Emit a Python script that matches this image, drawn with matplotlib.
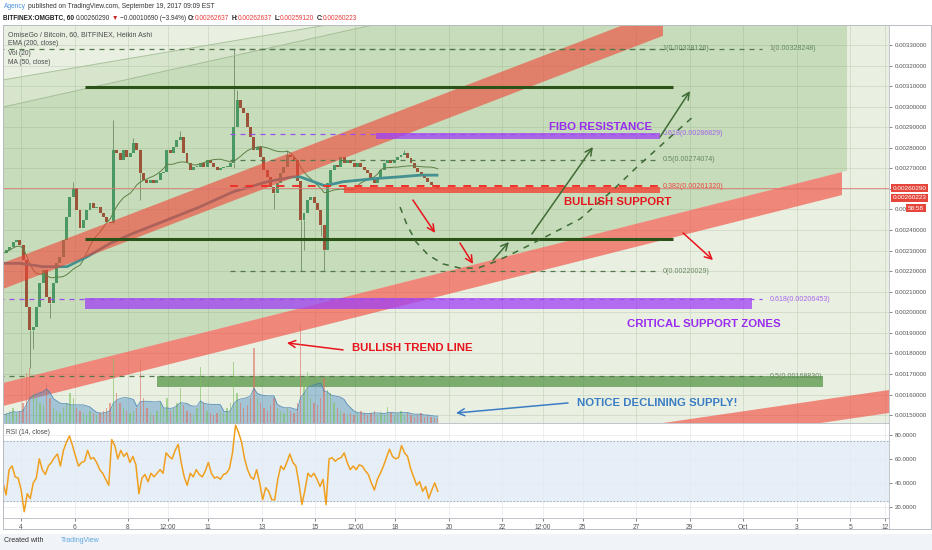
import numpy as np
import pandas as pd
import matplotlib.pyplot as plt
from matplotlib.patches import Polygon, Rectangle
from matplotlib.lines import Line2D
from matplotlib.transforms import blended_transform_factory

plt.rcParams['font.family'] = ['Liberation Sans', 'DejaVu Sans']

# x is the day of September 2017 (Oct 1 = 31)
first_day = 3.33
step_day = 0.125

close = [0.002286, 0.002303, 0.002319, 0.002343, 0.002351, 0.002327, 0.002254, 0.002027, 0.001914, 0.001930,
         0.002027, 0.002141, 0.002205, 0.002076, 0.002043, 0.002141, 0.002238, 0.002270, 0.002351, 0.002465,
         0.002562, 0.002603, 0.002497, 0.002408, 0.002449, 0.002497, 0.002530, 0.002505, 0.002513, 0.002481,
         0.002465, 0.002440, 0.002432, 0.002789, 0.002773, 0.002740, 0.002789, 0.002757, 0.002773, 0.002821,
         0.002789, 0.002676, 0.002643, 0.002627, 0.002643, 0.002627, 0.002643, 0.002676, 0.002684, 0.002789,
         0.002773, 0.002805, 0.002838, 0.002854, 0.002773, 0.002724, 0.002692, 0.002708, 0.002708, 0.002724,
         0.002708, 0.002740, 0.002724, 0.002708, 0.002692, 0.002700, 0.002708, 0.002708, 0.002724, 0.002903,
         0.003032, 0.002992, 0.002967, 0.002903, 0.002854, 0.002789, 0.002805, 0.002757, 0.002692, 0.002659,
         0.002611, 0.002578, 0.002627, 0.002676, 0.002708, 0.002765, 0.002757, 0.002740, 0.002640, 0.002449,
         0.002483, 0.002546, 0.002560, 0.002531, 0.002497, 0.002425, 0.002303, 0.002629, 0.002692, 0.002716,
         0.002708, 0.002757, 0.002724, 0.002740, 0.002724, 0.002708, 0.002724, 0.002708, 0.002692, 0.002676,
         0.002643, 0.002627, 0.002659, 0.002692, 0.002724, 0.002740, 0.002724, 0.002740, 0.002757, 0.002765,
         0.002773, 0.002748, 0.002724, 0.002700, 0.002684, 0.002667, 0.002651, 0.002635, 0.002619, 0.002611,
         0.002602]

# only the wicks that stand out on the chart
wick_high = {21: 0.002635, 33: 0.002935, 39: 0.00285, 53: 0.00288, 69: 0.003281, 70: 0.00308,
             85: 0.00279, 120: 0.00279}
wick_low = {8: 0.00173, 9: 0.00182, 14: 0.00197, 33: 0.00243, 41: 0.002546, 69: 0.0027,
            81: 0.0025, 89: 0.0022, 90: 0.002303, 95: 0.00237, 96: 0.0022}

volume = [8, 10, 12, 15, 10, 12, 20, 50, 55, 30,
          25, 20, 18, 40, 25, 15, 12, 10, 15, 20,
          30, 25, 15, 12, 10, 8, 12, 10, 8, 10,
          12, 15, 20, 65, 30, 20, 15, 12, 10, 12,
          15, 63, 25, 15, 10, 8, 12, 20, 15, 25,
          12, 15, 20, 35, 18, 12, 10, 8, 15, 56,
          20, 12, 10, 8, 10, 12, 10, 15, 20, 61,
          30, 20, 15, 18, 25, 75, 25, 20, 15, 12,
          18, 25, 15, 12, 10, 15, 12, 10, 20, 100,
          40, 51, 25, 20, 18, 25, 45, 33, 30, 20,
          15, 12, 10, 8, 10, 8, 10, 12, 10, 8,
          10, 12, 8, 10, 8, 16, 10, 8, 10, 12,
          8, 10, 8, 6, 8, 10, 6, 8, 6, 5,
          5]

rsi = [40, 30, 51, 54, 45, 44, 34, 16, 31, 27, 40, 44, 60, 51, 47, 54, 57, 61, 64, 54,
       67, 74, 79, 71, 62, 54, 57, 58, 67, 60, 61, 57, 51, 48, 43, 38, 76, 71, 60, 67,
       62, 65, 57, 62, 55, 31, 44, 47, 41, 48, 45, 48, 51, 48, 65, 62, 60, 67, 72, 57,
       45, 38, 48, 45, 51, 47, 45, 50, 57, 48, 44, 45, 43, 47, 48, 52, 65, 88, 82, 74,
       60, 51, 45, 43, 51, 40, 26, 36, 33, 26, 26, 43, 54, 51, 57, 64, 57, 54, 40, 22,
       34, 48, 45, 48, 43, 37, 43, 22, 60, 61, 58, 60, 61, 65, 57, 51, 54, 51, 55, 54,
       50, 47, 40, 34, 43, 48, 54, 61, 68, 62, 60, 61, 71, 65, 62, 52, 45, 38, 41, 33,
       37, 27, 34, 40, 33]

ema_day = [3.33, 3.96, 4.82, 5.72, 6.47, 7.33, 8.19, 9.46, 10.69, 11.93, 13.20, 14.17, 14.43,
           15.36, 16.04, 17.31, 18.17, 18.92, 19.55]
ema_val = [0.002238, 0.002238, 0.002222, 0.002222, 0.002270, 0.002335, 0.002384, 0.002449,
           0.002513, 0.002586, 0.002635, 0.002659, 0.002659, 0.002615, 0.002635, 0.002651,
           0.002659, 0.002667, 0.002667]

fib_a = {1: 0.00328126, 0.618: 0.00286829, 0.5: 0.00274074, 0.382: 0.00261320, 0: 0.00220029}
fib_b = {1: 0.00328248, 0.618: 0.00206453, 0.5: 0.00168830}

last_price = 0.00260290
last_close = 0.00260223

price_ticks = [round(0.0015 + 0.0001 * k, 4) for k in range(19)]
rsi_ticks = [20, 40, 60, 80]
date_ticks = [4, 6, 8, 9.5, 11, 13, 15, 16.5, 18, 20, 22, 23.5, 25, 27, 29, 31, 33, 35, 36.3]
date_labels = ['4', '6', '8', '12:00', '11', '13', '15', '12:00', '18', '20', '22', '12:00',
               '25', '27', '29', 'Oct', '3', '5', '12']

W, H = 932, 550
fig = plt.figure(figsize=(W / 100, H / 100), dpi=100)
ax = fig.add_axes([3 / W, 1 - 423 / H, 886 / W, 398 / H])
ax_r = fig.add_axes([3 / W, 1 - 518 / H, 886 / W, 95 / H], sharex=ax)
ax.set_xlim(3.327, 36.449)
ax.set_ylim(0.0014615, 0.0033973)
ax_r.set_ylim(10.8, 89.8)
ax.set_facecolor('#e9f0e2')
ax_r.set_facecolor('white')

# --- candles, EMA, MA ---
days = first_day + step_day * np.arange(len(close))
c = np.array(close)
o = np.r_[c[0], c[:-1]]
up = c >= o
body = np.where(np.abs(c - o) < 4e-6, 4e-6, c - o)
for i, v in wick_high.items():
    ax.vlines(days[i], max(o[i], c[i]), v, color='#7d8f76', lw=0.7, zorder=1.9)
for i, v in wick_low.items():
    ax.vlines(days[i], min(o[i], c[i]), v, color='#7d8f76', lw=0.7, zorder=1.9)
ax.bar(days, body, bottom=o, width=0.11, color=np.where(up, '#3a9168', '#ad2f2a'), zorder=2)
ax.plot(ema_day, ema_val, color='#2f86a6', lw=2.0, zorder=2.2)
ma50 = pd.Series(close).rolling(17, min_periods=1).mean()
ax.plot(days, ma50, color='#55703f', lw=0.7, zorder=2.1)


# --- drawings ---
def band(d0, p0, d1, p1, half, start, stop):
    k = (p1 - p0) / (d1 - d0)
    a, b = p0 + k * (start - d0), p0 + k * (stop - d0)
    return [(start, a + half), (stop, b + half), (stop, b - half), (start, a - half)]


band2_top = lambda d: 0.001656 + 3.272e-5 * (d - 3.33)
layer1 = [(3.0, 0.003123), (20.1, 0.0035), (34.88, 0.0035), (34.88, band2_top(34.88)), (3.0, band2_top(3.0))]
layer2 = [(3.0, 0.002989), (20.7, 0.0035), (34.88, 0.0035), (34.88, band2_top(34.88)), (3.0, band2_top(3.0))]
for pts in (layer1, layer2):
    ax.add_patch(Polygon(pts, closed=True, fc='#78ad5e', alpha=0.16, ec='none', zorder=3))
ax.plot([3.0, 20.1], [0.003123, 0.0035], color='#aac39c', lw=0.7, zorder=3.1)
ax.plot([3.0, 20.7], [0.002989, 0.0035], color='#a6bf98', lw=0.7, zorder=3.1)

for pts in (band(3.327, 0.0021765, 25.645, 0.0032903, 0.0000632, 3.0, 28.0),
            band(3.327, 0.0016, 34.69, 0.002626, 0.000056, 3.0, 34.69),
            band(28.0, 0.0014055, 36.449, 0.001566, 0.000056, 26.5, 36.6)):
    ax.add_patch(Polygon(pts, closed=True, fc='#f44336', alpha=0.6, ec='none', zorder=4))

ax.axhline(last_price, color='#e57373', lw=0.7, alpha=0.8, zorder=4.5)

# zones
ax.add_patch(Rectangle((17.27, 0.002843), 10.62, 0.000027, fc='#a040f5', alpha=0.75, ec='none', zorder=5))
ax.add_patch(Rectangle((16.07, 0.002580), 11.82, 0.000030, fc='#f44336', alpha=0.8, ec='none', zorder=5))
ax.add_patch(Rectangle((6.39, 0.002016), 24.94, 0.000053, fc='#a040f5', alpha=0.75, ec='none', zorder=5))
ax.add_patch(Rectangle((9.08, 0.001637), 24.90, 0.000053, fc='#4f8f3f', alpha=0.7, ec='none', zorder=5))
ax.hlines([0.003095, 0.002357], 6.39, 28.37, color='#2b5219', lw=2.2, zorder=6)

# fibonacci levels
fib_col = {1: '#55784c', 0.618: '#9c4df0', 0.5: '#55784c', 0.382: '#f0302a', 0: '#55784c'}
for fib, d0, d1, dl in ((fib_a, 11.81, 27.89, 28.0), (fib_b, 3.0, 31.7, 32.0)):
    for lvl, p in fib.items():
        lw = 1.4 if lvl == 0.382 else 0.9
        ax.hlines(p, d0, d1, color=fib_col[lvl], lw=lw, linestyles=(0, (4, 4)), zorder=6)
        ax.text(dl, p, f'{lvl:g}({p:.8f})', color=fib_col[lvl], fontsize=5.1, va='center',
                ha='left', zorder=7, alpha=0.85)

# projected path
curve_d = [18.17, 18.43, 18.77, 19.22, 19.78, 20.41, 21.08, 21.79, 22.65, 23.89, 24.90, 26.13,
           27.03, 28.15, 29.20]
curve_p = [0.002512, 0.002425, 0.002342, 0.002279, 0.002235, 0.002215, 0.002215, 0.002249,
           0.002303, 0.002386, 0.002454, 0.002595, 0.002707, 0.002838, 0.002960]
ax.plot(curve_d, curve_p, color='#3f6b35', lw=1.1, ls=(0, (4, 4)), zorder=6)

arrows = [((18.65, 0.002546), (19.48, 0.002386), '#e8141c'),
          ((20.41, 0.002337), (20.90, 0.002235), '#e8141c'),
          ((21.65, 0.002254), (22.24, 0.002342), '#3f6b35'),
          ((23.10, 0.002381), (25.38, 0.002804), '#3f6b35'),
          ((27.89, 0.002853), (29.01, 0.003076), '#3f6b35'),
          ((28.75, 0.002386), (29.87, 0.002254), '#e8141c'),
          ((16.04, 0.001817), (13.94, 0.001851), '#e8141c'),
          ((24.45, 0.001559), (20.26, 0.001510), '#3b7dc4')]
for start, end, col in arrows:
    ax.annotate('', xy=end, xytext=start, zorder=7,
                arrowprops=dict(arrowstyle='->,head_length=0.5,head_width=0.25', color=col,
                                lw=1.1, shrinkA=0, shrinkB=0))

notes = [(25.65, 0.002901, 'FIBO RESISTANCE', '#9a2cf0'),
         (26.32, 0.002536, 'BULLISH SUPPORT', '#e8141c'),
         (29.53, 0.001943, 'CRITICAL SUPPORT ZONES', '#9a2cf0'),
         (18.62, 0.001826, 'BULLISH TREND LINE', '#e8141c'),
         (27.78, 0.001559, 'NOTICE DECLINING SUPPLY!', '#3b7dc4')]
for d, p, s, col in notes:
    ax.text(d, p, s, ha='center', va='center', fontsize=8.2, fontweight='bold', color=col, zorder=8)

# --- volume ---
ax_v = ax.twinx()
ax_v.set_ylim(0, 398)
ax_v.axis('off')
vol_ma = pd.Series(volume).rolling(7, min_periods=1).mean()
ax_v.fill_between(days, 0, vol_ma, color='#4f8fc4', alpha=0.45, lw=0)
ax_v.plot(days, vol_ma, color='#3a7ab0', lw=0.6, alpha=0.8)
ax_v.bar(days, volume, width=0.05, color=np.where(up, '#7bbf5a', '#e0705e'), alpha=0.6)

# --- axes styling ---
trans = blended_transform_factory(ax.transAxes, ax.transData)
ax.yaxis.tick_right()
ax.set_yticks(price_ticks, [f'{v:.8f}' for v in price_ticks])
ax.tick_params(axis='y', labelsize=4.4, colors='#555555', length=2, pad=2, width=0.5)
ax.tick_params(axis='x', labelbottom=False, length=0)
ax.grid(True, color='#cbd6c3', lw=0.5)
ax.set_axisbelow(True)

ax_r.yaxis.tick_right()
ax_r.set_xticks(date_ticks, date_labels)
ax_r.set_yticks(rsi_ticks, [f'{v:.4f}' for v in rsi_ticks])
ax_r.tick_params(labelsize=4.4, colors='#555555', length=2, pad=2, width=0.5)
ax_r.tick_params(axis='x', labelsize=4.8)
ax_r.grid(True, color='#e6e9ee', lw=0.5)
ax_r.set_axisbelow(True)
ax_r.axhspan(25, 75, color='#e6eef7', zorder=0.5)
ax_r.axhline(75, color='#9aa4b0', lw=0.6, ls=(0, (2, 2)))
ax_r.axhline(25, color='#9aa4b0', lw=0.6, ls=(0, (2, 2)))
ax_r.plot(np.linspace(days[0], days[-1], len(rsi)), rsi, color='#f0a01e', lw=1.1)
for a in (ax, ax_r):
    for s in a.spines.values():
        s.set_color('#b7bac1')
        s.set_linewidth(0.6)

# price tags on the scale
box = dict(boxstyle='square,pad=0.25', fc='#e5453b', ec='none')
ax.text(1.004, last_price, f'{last_price:.8f}', transform=trans, fontsize=4.6, color='white',
        va='center', bbox=box, zorder=10)
ax.text(1.004, 0.002556, f'{last_close:.8f}', transform=trans, fontsize=4.6, color='white',
        va='center', bbox=box, zorder=10)
ax.text(1.0214, 0.002507, '58:58', transform=trans, fontsize=4.6, color='white',
        va='center', bbox=box, zorder=10)

# legends inside panels
for k, s in enumerate(['OmiseGo / Bitcoin, 60, BITFINEX, Heikin Ashi', 'EMA (200, close)',
                       'Vol (20)', 'MA (50, close)']):
    ax.text(0.0056, 0.977 - 0.024 * k, s, transform=ax.transAxes, fontsize=5.0 if k == 0 else 4.8,
            color='#4a4a4a', va='center', zorder=9)
ax_r.text(0.0034, 0.9, 'RSI (14, close)', transform=ax_r.transAxes, fontsize=4.8, color='#4a4a4a',
          va='center')

# frame
fig.add_artist(Rectangle((3 / W, 1 - 529 / H), 928 / W, 504 / H, transform=fig.transFigure,
                         fill=False, ec='#b9bcc3', lw=0.7))
fig.add_artist(Line2D([889 / W, 889 / W], [1 - 529 / H, 1 - 518 / H], color='#b7bac1', lw=0.6))


# header lines, pieces chained left to right
def chain(pieces, x, y, size):
    prev = fig.text(x, y, pieces[0][0], color=pieces[0][1], fontsize=size,
                    fontweight=pieces[0][2], va='bottom', ha='left')
    for txt, col, wt, gap in pieces[1:]:
        prev = ax.annotate(txt, xy=(1, 0), xycoords=prev, xytext=(gap, 0), textcoords='offset points',
                           color=col, fontsize=size, fontweight=wt, va='bottom', ha='left',
                           annotation_clip=False)


chain([('Agency', '#4a90d9', 'normal'),
       ('published on TradingView.com, September 19, 2017 09:09 EST', '#333333', 'normal', 1.2)],
      4 / W, 1 - 10 / H, 4.8)
red = '#e53935'
chain([('BITFINEX:OMGBTC, 60', '#222222', 'bold'),
       ('0.00260290', '#333333', 'normal', 1.3),
       ('▼', '#c62828', 'normal', 1.3),
       ('−0.00010690 (−3.94%)', '#333333', 'normal', 1.3),
       ('O:', '#222222', 'bold', 1.3), ('0.00262637', red, 'normal', 0),
       ('H:', '#222222', 'bold', 1.3), ('0.00262637', red, 'normal', 0),
       ('L:', '#222222', 'bold', 1.3), ('0.00259120', red, 'normal', 0),
       ('C:', '#222222', 'bold', 1.3), ('0.00260223', red, 'normal', 0)],
      3 / W, 1 - 22 / H, 4.7)

# footer
fig.add_artist(Rectangle((0, 0), 1, 16 / H, transform=fig.transFigure, fc='#f0f3f8', ec='none'))
fig.text(4 / W, 1 - 541 / H, 'Created with', fontsize=5.0, color='#333333', va='center')
fig.text(61 / W, 1 - 541 / H, 'TradingView', fontsize=5.0, color='#5fa8e0', va='center')

fig.savefig('out.png', dpi=100)
